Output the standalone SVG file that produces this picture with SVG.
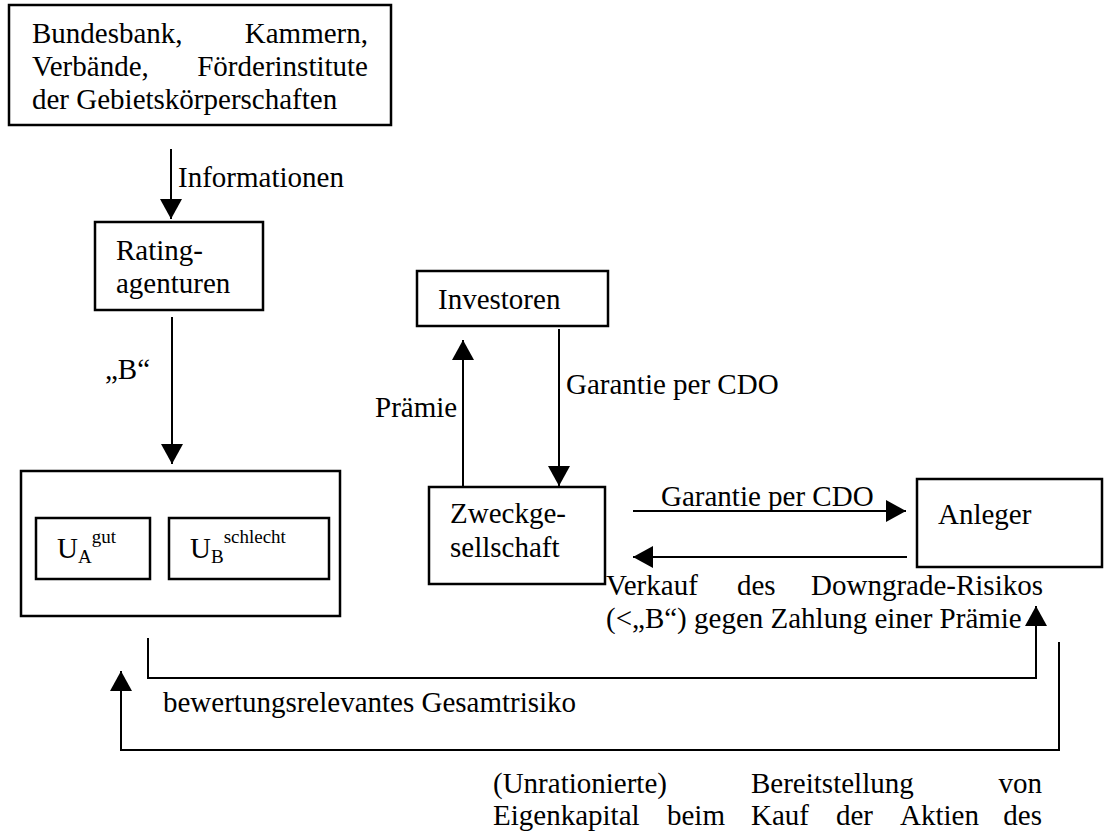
<svg xmlns="http://www.w3.org/2000/svg" width="1107" height="834" viewBox="0 0 1107 834">
<defs>
<style>
.box{fill:#fff;stroke:#000;stroke-width:2.5}
.ln{fill:none;stroke:#000;stroke-width:2}
text{font-family:"Liberation Serif","Times New Roman",serif;font-size:29px;fill:#000}
.sm{font-size:19px}
</style>
<marker id="ah" viewBox="0 0 20 22" refX="20" refY="11" markerWidth="20" markerHeight="22" markerUnits="userSpaceOnUse" orient="auto">
<path d="M0,0 L20,11 L0,22 z" fill="#000"/>
</marker>
<clipPath id="clipV"><rect x="590" y="560" width="480" height="74"/></clipPath>
</defs>
<rect width="1107" height="834" fill="#fff"/>
<g id="connectors">
<line class="ln" x1="171" y1="149" x2="171" y2="219" marker-end="url(#ah)"/>
<line class="ln" x1="172" y1="317" x2="172" y2="464" marker-end="url(#ah)"/>
<line class="ln" x1="463" y1="487" x2="463" y2="340" marker-end="url(#ah)"/>
<line class="ln" x1="559" y1="329" x2="559" y2="486" marker-end="url(#ah)"/>
<line class="ln" x1="633" y1="511" x2="906" y2="511" marker-end="url(#ah)"/>
<line class="ln" x1="907" y1="557" x2="633" y2="557" marker-end="url(#ah)"/>
<polyline class="ln" points="148,638 148,678 1036,678 1036,606" marker-end="url(#ah)"/>
<polyline class="ln" points="1059,642 1059,750 121,750 121,671" marker-end="url(#ah)"/>
</g>
<g id="n-top">
<rect class="box" x="9" y="5" width="382" height="120"/>
<text x="32" y="43">Bundesbank,</text><text x="368" y="43" text-anchor="end">Kammern,</text>
<text x="32" y="76">Verbände,</text><text x="368" y="76" text-anchor="end">Förderinstitute</text>
<text x="32" y="109">der Gebietskörperschaften</text>
</g>
<text x="178" y="187">Informationen</text>
<g id="n-rating">
<rect class="box" x="95" y="222" width="168" height="88"/>
<text x="116" y="260">Rating-</text>
<text x="116" y="293">agenturen</text>
</g>
<text x="105" y="379">„B“</text>
<g id="n-left">
<rect class="box" x="21" y="471" width="319" height="145"/>
</g>
<g id="n-ua">
<rect class="box" x="36" y="518" width="114" height="61"/>
<text x="57" y="558">U<tspan class="sm" dy="5">A</tspan><tspan class="sm" dy="-20">gut</tspan></text>
</g>
<g id="n-ub">
<rect class="box" x="169" y="518" width="160" height="61"/>
<text x="190" y="558">U<tspan class="sm" dy="5">B</tspan><tspan class="sm" dy="-20">schlecht</tspan></text>
</g>
<g id="n-investoren">
<rect class="box" x="417" y="271" width="191" height="55"/>
<text x="438" y="309">Investoren</text>
</g>
<text x="375" y="417">Prämie</text>
<text x="566" y="394">Garantie per CDO</text>
<g id="n-zweck">
<rect class="box" x="429" y="487" width="176" height="97"/>
<text x="450" y="523">Zweckge-</text>
<text x="450" y="557">sellschaft</text>
</g>
<text x="661" y="506">Garantie per CDO</text>
<g id="n-anleger">
<rect class="box" x="917" y="479" width="185" height="88"/>
<text x="938" y="524">Anleger</text>
</g>
<g clip-path="url(#clipV)">
<text x="606" y="595">Verkauf</text><text x="737" y="595">des</text><text x="1043" y="595" text-anchor="end">Downgrade-Risikos</text>
<text x="606" y="628">(&lt;„B“) gegen Zahlung einer Prämie</text>
</g>
<text x="163" y="712">bewertungsrelevantes Gesamtrisiko</text>
<text x="493" y="793">(Unrationierte)</text><text x="751" y="793">Bereitstellung</text><text x="1042" y="793" text-anchor="end">von</text>
<text x="493" y="825">Eigenkapital</text><text x="667" y="825">beim</text><text x="751" y="825">Kauf</text><text x="836" y="825">der</text><text x="900" y="825">Aktien</text><text x="1042" y="825" text-anchor="end">des</text>
</svg>
